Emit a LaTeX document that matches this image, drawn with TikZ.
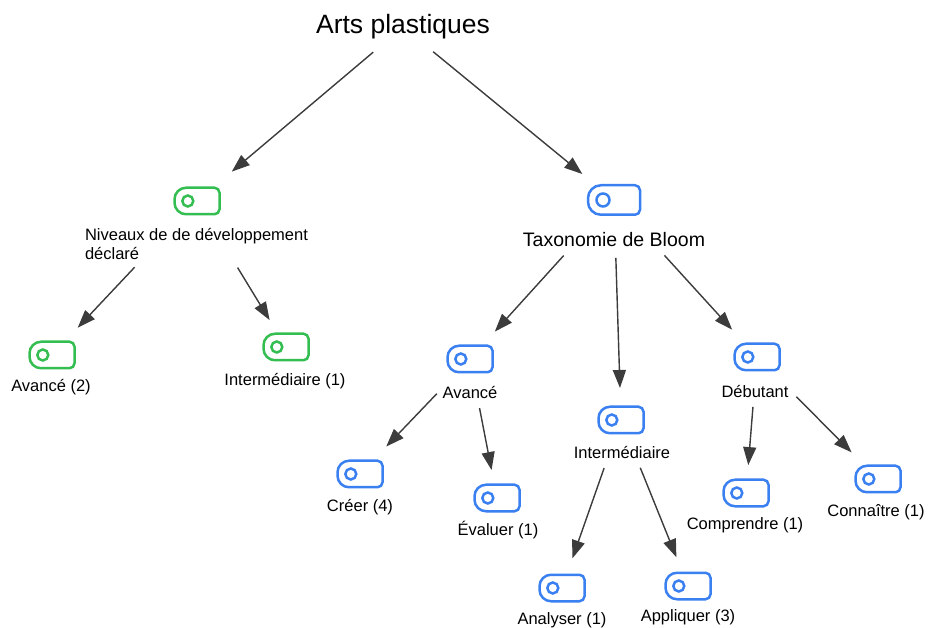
\documentclass[tikz,border=0pt]{standalone}
\usepackage{fontspec}
\setmainfont{Liberation Sans}
\usetikzlibrary{arrows.meta}
\definecolor{tagGreen}{RGB}{52,190,82}
\definecolor{tagBlue}{RGB}{58,128,240}
\definecolor{linkGray}{RGB}{60,60,60}

% Tag outline: rounder on the left, tight corners on the right, ring near the left end
% #1 node, #2 colour, #3 left corner radius, #4 ring radius, #5 ring offset from the left edge
\newcommand\drawtag[5]{%
  \draw[#2, line width=2.5pt]
    ([xshift=#3]#1.north west) -- ([xshift=-5pt]#1.north east)
    arc[start angle=90, end angle=0, radius=5pt]
    -- ([yshift=5pt]#1.south east)
    arc[start angle=0, end angle=-90, radius=5pt]
    -- ([xshift=#3]#1.south west)
    arc[start angle=270, end angle=180, radius=#3]
    -- ([yshift=-#3]#1.north west)
    arc[start angle=180, end angle=90, radius=#3]
    -- cycle;
  \draw[#2, line width=2.5pt] ([xshift=#5]#1.west) circle[radius=#4];
}

\begin{document}
\begin{tikzpicture}[x=1pt,y=-1pt,
  tag/.style={minimum width=45pt, minimum height=26.5pt, inner sep=0pt, outer sep=0pt},
  bigtag/.style={minimum width=52pt, minimum height=29.5pt, inner sep=0pt, outer sep=0pt},
  lbl/.style={font=\fontsize{16.5}{19}\selectfont, inner sep=0pt, text=black},
  link/.style={draw=linkGray, line width=1.4pt, -{Triangle[length=18pt,width=13pt]}, fill=linkGray}
]
\useasboundingbox (0,0) rectangle (930,628);

% title
\node[font=\fontsize{26.5}{30}\selectfont, inner sep=0pt] (root) at (403,27) {Arts plastiques};

% tags
\node[tag] (niv) at (197,201) {};
\node[bigtag] (tax) at (614,200) {};
\node[tag] (av2) at (52,355) {};
\node[tag] (int1) at (286,347) {};
\node[tag] (bav) at (470,359) {};
\node[tag] (bint) at (621,420) {};
\node[tag] (bdeb) at (757,357) {};
\node[tag] (creer) at (360,474) {};
\node[tag] (eval) at (497,498) {};
\node[tag] (anal) at (562,588) {};
\node[tag] (appl) at (688,586) {};
\node[tag] (comp) at (746,493) {};
\node[tag] (conn) at (878,479) {};

\foreach \n in {niv,av2,int1} {\drawtag{\n}{tagGreen}{11.5pt}{5.5pt}{13.3pt}}
\drawtag{tax}{tagBlue}{13pt}{6.5pt}{15pt}
\foreach \n in {bav,bint,bdeb,creer,eval,anal,appl,comp,conn} {\drawtag{\n}{tagBlue}{11.5pt}{5.5pt}{13.3pt}}

% labels
\node[lbl, align=left] (niv-l) at (196.5,244) {Niveaux de de développement\\déclaré};
\node[font=\fontsize{19.5}{22}\selectfont, inner sep=0pt, text=black] (tax-l) at (614,240) {Taxonomie de Bloom};
\node[lbl] (av2-l) at (51,387) {Avancé (2)};
\node[lbl] (int1-l) at (285,381) {Intermédiaire (1)};
\node[lbl] (bav-l) at (470,393) {Avancé};
\node[lbl] (bint-l) at (622,453) {Intermédiaire};
\node[lbl] (bdeb-l) at (755,392) {Débutant};
\node[lbl] (creer-l) at (360,507) {Créer (4)};
\node[lbl] (eval-l) at (498,530) {Évaluer (1)};
\node[lbl] (anal-l) at (562,620) {Analyser (1)};
\node[lbl] (appl-l) at (688,617) {Appliquer (3)};
\node[lbl] (comp-l) at (745,525) {Comprendre (1)};
\node[lbl] (conn-l) at (876,512) {Connaître (1)};

% connectors, centre to centre, trimmed at both ends
\draw[link, shorten <=39pt, shorten >=45.5pt] (root.center) -- (niv.center);
\draw[link, shorten <=39pt, shorten >=41pt] (root.center) -- (tax.center);
\draw[link, shorten <=91pt, shorten >=37.5pt] (niv.center) -- (av2.center);
\draw[link, shorten <=78pt, shorten >=31.5pt] (niv.center) -- (int1.center);
\draw[link, shorten <=75pt, shorten >=37pt] (tax.center) -- (bav.center);
\draw[link, shorten <=58pt, shorten >=32pt] (tax.center) -- (bint.center);
\draw[link, shorten <=75pt, shorten >=37pt] (tax.center) -- (bdeb.center);
\draw[link, shorten <=48pt, shorten >=38pt] (bav.center) -- (creer.center);
\draw[link, shorten <=50pt, shorten >=28.5pt] (bav.center) -- (eval.center);
\draw[link, shorten <=51pt, shorten >=31.5pt] (bint.center) -- (anal.center);
\draw[link, shorten <=51.5pt, shorten >=31pt] (bint.center) -- (appl.center);
\draw[link, shorten <=50pt, shorten >=28pt] (bdeb.center) -- (comp.center);
\draw[link, shorten <=56pt, shorten >=37.5pt] (bdeb.center) -- (conn.center);
\end{tikzpicture}
\end{document}
